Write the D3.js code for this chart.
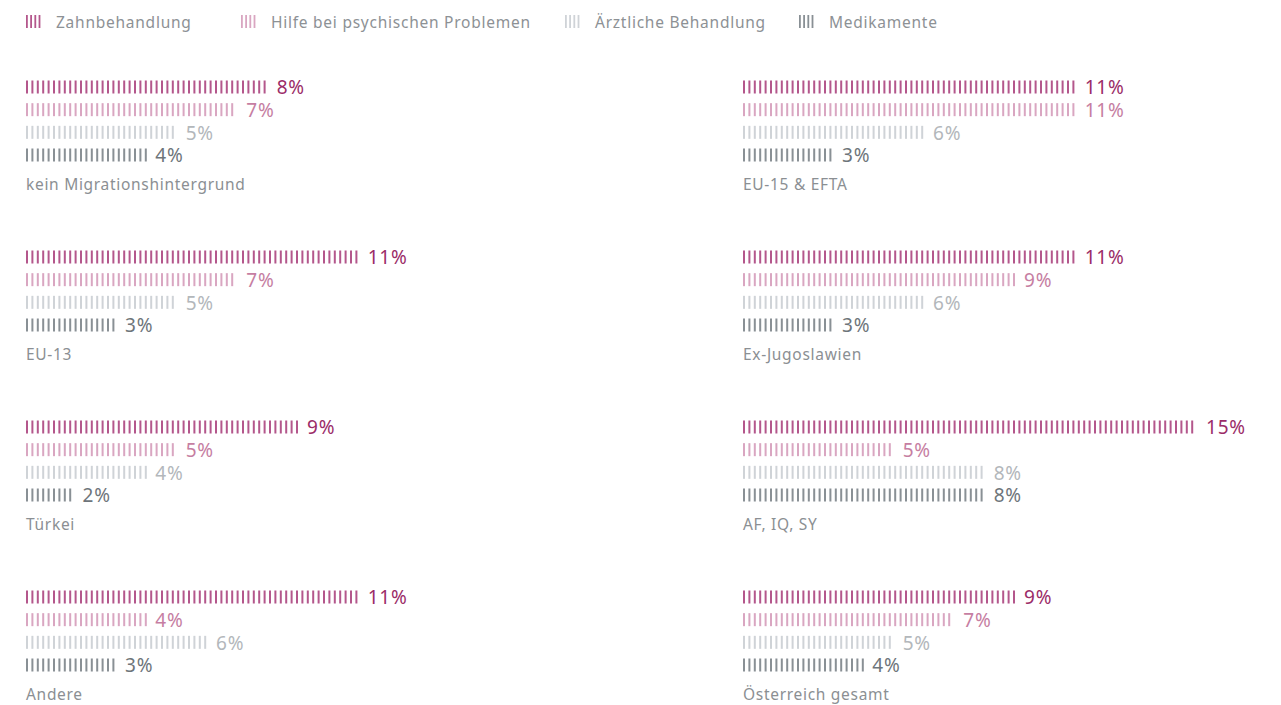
<!DOCTYPE html>
<html>
<head>
<meta charset="utf-8">
<script src="https://cdn.jsdelivr.net/npm/d3@7"></script>
<style>
  body { margin: 0; background: #fff; }
  svg { display: block; font-family: "Noto Sans", sans-serif; }
</style>
</head>
<body>
<svg></svg>
<script>
const groups = ['kein Migrationshintergrund', 'EU-15 & EFTA', 'EU-13', 'Ex-Jugoslawien',
                'Türkei', 'AF, IQ, SY', 'Andere', 'Österreich gesamt'];
const seriesNames = ['Zahnbehandlung', 'Hilfe bei psychischen Problemen', 'Ärztliche Behandlung', 'Medikamente'];
const zahn   = [8, 11, 11, 11, 9, 15, 11, 9];
const psych  = [7, 11, 7, 9, 5, 5, 4, 7];
const aerztl = [5, 6, 5, 6, 4, 8, 6, 5];
const medi   = [4, 3, 3, 3, 1.6, 8, 3, 4];

const WIDTH = 1281, HEIGHT = 705;
const tickColors  = ['#b4578c', '#d9a6c1', '#cfd3d7', '#899095'];
const labelColors = ['#9b2c68', '#c67ea2', '#b3b7bb', '#6e757a'];
const seriesVals = [zahn, psych, aerztl, medi];

let svg = d3.select('svg')
   .attr('width', WIDTH)
   .attr('height', HEIGHT);

// scales
let x = d3.scaleLinear().domain([0, 15]).range([0, 455]);
let col = d3.scaleOrdinal().domain([0, 1]).range([26, 743]);
let panelY = d3.scaleLinear().domain([0, 3]).range([87, 87 + 3 * 170]);
let rowY = d3.scaleLinear().domain([0, 3]).range([0, 68]);

const STEP = 5.4, TICK_W = 2, TICK_H = 13;

function ticks(len, step) {
   let n = Math.max(1, Math.floor(len / step) + 1);
   return d3.range(n).map(i => i * step);
}

// legend
let legendX = [26, 241, 565, 799];
let legend = svg.append('g');
seriesNames.forEach((s, i) => {
   let lg = legend.append('g').attr('transform', `translate(${legendX[i]},22)`);
   lg.selectAll('rect')
      .data(d3.range(4))
      .join('rect')
      .attr('x', d => d * 4.2)
      .attr('y', -7)
      .attr('width', 1.8)
      .attr('height', 13)
      .attr('fill', tickColors[i]);
   lg.append('text')
      .attr('x', 30)
      .attr('dy', '0.38em')
      .attr('font-size', 15.5)
      .attr('letter-spacing', 0.75)
      .attr('fill', '#8d9195')
      .text(s);
});

// panels
groups.forEach((g, gi) => {
   let px = col(gi % 2), py = panelY(Math.floor(gi / 2));
   let pg = svg.append('g').attr('transform', `translate(${px},${py})`);

   seriesVals.forEach((vals, si) => {
      let v = vals[gi];
      let len = x(v);
      let row = pg.append('g').attr('transform', `translate(0,${rowY(si)})`);
      row.selectAll('rect')
         .data(ticks(len - TICK_W, STEP))
         .join('rect')
         .attr('x', d => d)
         .attr('y', -TICK_H / 2)
         .attr('width', TICK_W)
         .attr('height', TICK_H)
         .attr('fill', tickColors[si]);
      row.append('text')
         .attr('x', len + 8)
         .attr('dy', '0.38em')
         .attr('font-size', 19)
         .attr('letter-spacing', 0.8)
         .attr('fill', labelColors[si])
         .text(d3.format('.0f')(v) + '%');
   });

   pg.append('text')
      .attr('x', 0)
      .attr('y', 97)
      .attr('dy', '0.38em')
      .attr('font-size', 15.5)
      .attr('letter-spacing', 0.7)
      .attr('fill', '#8b8f93')
      .text(g);
});
</script>
</body>
</html>
